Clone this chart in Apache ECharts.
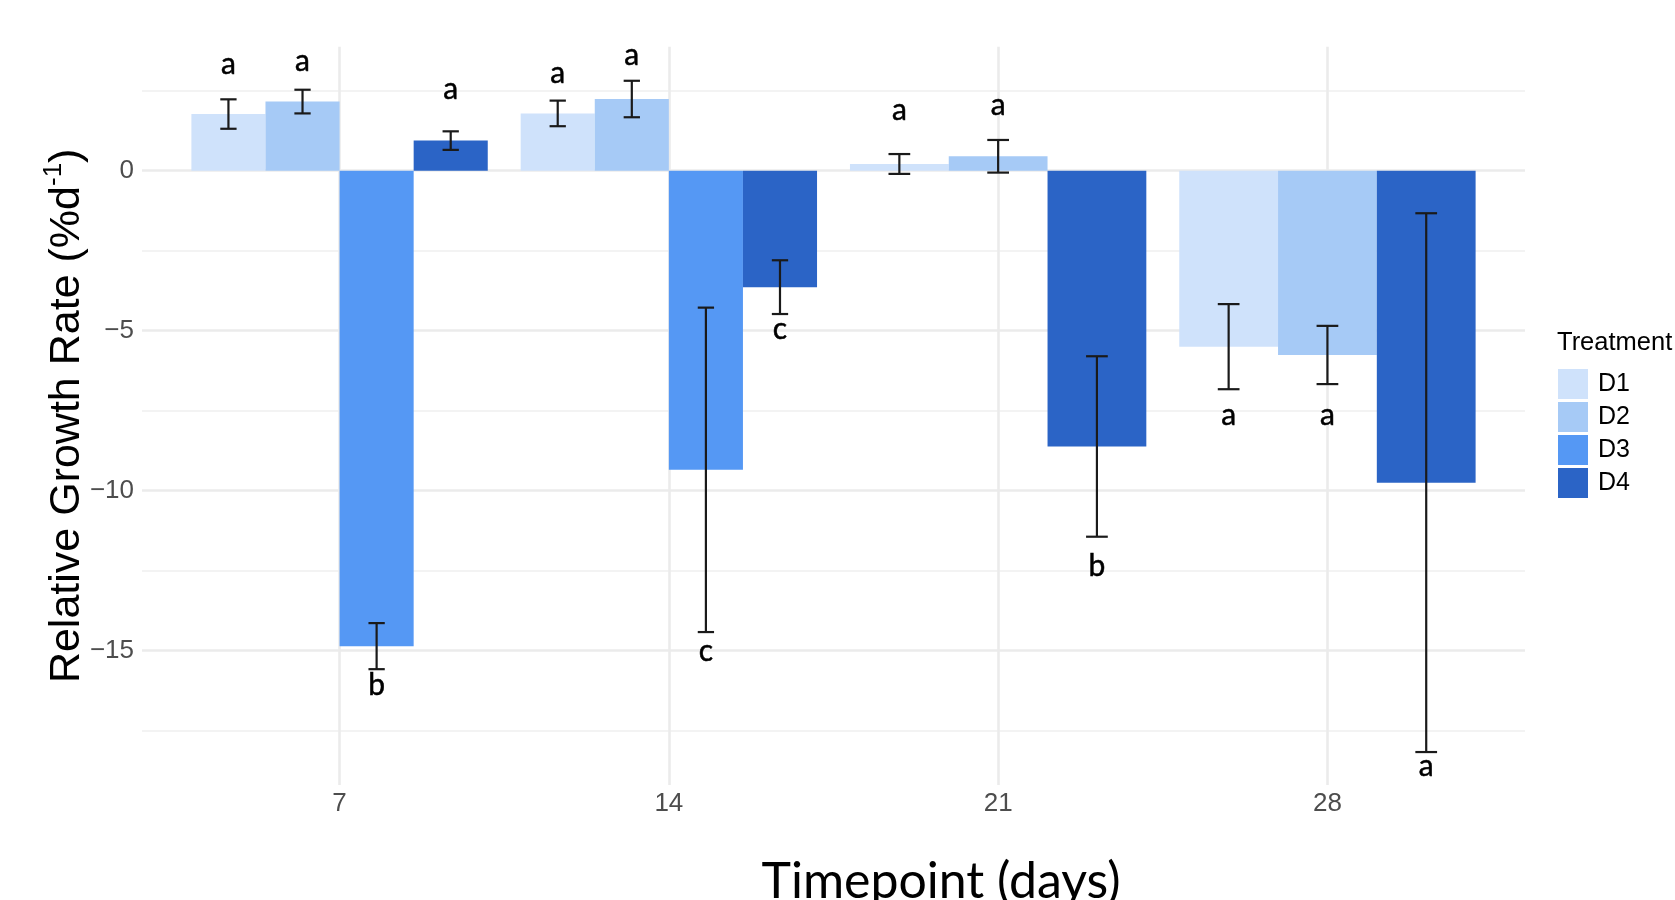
<!DOCTYPE html>
<html><head><meta charset="utf-8">
<script src="https://cdn.jsdelivr.net/npm/echarts@6/dist/echarts.min.js"></script>
<style>html,body{margin:0;padding:0;background:#fff}#c{width:1675px;height:900px}</style>
</head><body><div id="c"></div>
<script>
// ---- data ----
const timepoints = [7, 14, 21, 28];
const treatments = ['D1', 'D2', 'D3', 'D4'];
const meanD1 = [1.77, 1.79, 0.21, -5.50];
const meanD2 = [2.16, 2.24, 0.45, -5.76];
const meanD3 = [-14.86, -9.35, null, null];
const meanD4 = [0.94, -3.64, -8.62, -9.75];
const seD1 = [0.46, 0.40, 0.31, 1.33];
const seD2 = [0.37, 0.57, 0.51, 0.91];
const seD3 = [0.72, 5.07, null, null];
const seD4 = [0.29, 0.84, 2.82, 8.42];
const letterD1 = ['a', 'a', 'a', 'a'];
const letterD2 = ['a', 'a', 'a', 'a'];
const letterD3 = ['b', 'c', null, null];
const letterD4 = ['a', 'c', 'b', 'a'];
const letterPosD1 = [3.33, 3.03, 1.90, -7.65];
const letterPosD2 = [3.43, 3.60, 2.03, -7.65];
const letterPosD3 = [-16.10, -15.03, null, null];
const letterPosD4 = [2.53, -4.95, -12.36, -18.63];

// ---- styles ----
const colors = ['#cfe2fb', '#a6caf6', '#5598f4', '#2b64c6'];
const means = [meanD1, meanD2, meanD3, meanD4];
const ses = [seD1, seD2, seD3, seD4];
const letters = [letterD1, letterD2, letterD3, letterD4];
const letterPos = [letterPosD1, letterPosD2, letterPosD3, letterPosD4];
const SANS = '"Liberation Sans", Arial, Helvetica, sans-serif';
const CAL = 'Lato, "Open Sans", sans-serif';
const BAND = 7, DODGE = 0.9;

const series = treatments.map((name, k) => {
  const data = [];
  const labs = [];
  timepoints.forEach((t, i) => {
    if (means[k][i] == null) return;
    const present = treatments.filter((_, j) => means[j][i] != null);
    data.push([t, means[k][i], ses[k][i], letterPos[k][i], present.indexOf(name), present.length]);
    labs.push(letters[k][i]);
  });
  return {
    name, type: 'custom', data,
    itemStyle: { color: colors[k] },
    encode: { x: 0, y: [1] },
    renderItem(params, api) {
      const x = api.value(0), v = api.value(1), se = api.value(2), ly = api.value(3);
      const slot = api.value(4), n = api.value(5);
      const gw = DODGE * BAND, bw = gw / n;
      const x0 = x - gw / 2 + slot * bw, xc = x0 + bw / 2;
      const pA = api.coord([x0, 0]), pB = api.coord([x0 + bw, v]);
      const top = api.coord([xc, v + se]), bot = api.coord([xc, v - se]);
      const cap = 0.22 * bw / 2;
      const cl = api.coord([xc - cap, v])[0], cr = api.coord([xc + cap, v])[0];
      const lab = api.coord([xc, ly]);
      const ls = { stroke: '#1a1a1a', lineWidth: 2.2 };
      return { type: 'group', children: [
        { type: 'rect', shape: { x: pA[0], y: Math.min(pA[1], pB[1]), width: pB[0] - pA[0], height: Math.abs(pB[1] - pA[1]) }, style: { fill: colors[k] } },
        { type: 'line', shape: { x1: top[0], y1: top[1], x2: bot[0], y2: bot[1] }, style: ls },
        { type: 'line', shape: { x1: cl, y1: top[1], x2: cr, y2: top[1] }, style: ls },
        { type: 'line', shape: { x1: cl, y1: bot[1], x2: cr, y2: bot[1] }, style: ls },
        { type: 'text', x: lab[0], y: lab[1], style: { text: labs[params.dataIndex], fill: '#000', fontSize: 30, fontFamily: CAL, align: 'center', verticalAlign: 'middle', stroke: '#000', lineWidth: 0.5 } }
      ]};
    }
  };
});

const chart = echarts.init(document.getElementById('c'), null, { renderer: 'canvas' });
chart.setOption({
  animation: false,
  backgroundColor: '#fff',
  title: { text: 'Treatment', left: 1557, top: 330, padding: 0,
    textStyle: { fontSize: 25.5, fontWeight: 'normal', color: '#000', fontFamily: SANS } },
  legend: { orient: 'vertical', left: 1558, top: 369, itemWidth: 30, itemHeight: 30, itemGap: 3,
    icon: 'rect', data: treatments, selectedMode: false, padding: 0,
    textStyle: { fontSize: 25, color: '#000', fontFamily: SANS, padding: [0, 0, 0, 5] } },
  grid: { left: 142, right: 150, top: 46.7, bottom: 115 },
  xAxis: {
    type: 'value', min: 2.8, max: 32.2,
    axisLine: { show: false },
    axisTick: { show: false, customValues: timepoints },
    axisLabel: { customValues: timepoints, fontSize: 26, color: '#4d4d4d', fontFamily: SANS, margin: 6 },
    splitLine: { show: true, lineStyle: { color: '#ebebeb', width: 2.6 } }
  },
  yAxis: {
    type: 'value', min: -19.2, max: 3.875, splitNumber: 5,
    axisLine: { show: false }, axisTick: { show: false },
    axisLabel: { showMinLabel: false, showMaxLabel: false, fontSize: 26, color: '#4d4d4d', fontFamily: SANS, margin: 8,
      formatter: v => (v < 0 ? '\u2212' : '') + Math.abs(v) },
    splitLine: { show: true, showMinLine: false, showMaxLine: false, lineStyle: { color: '#ebebeb', width: 2.6 } },
    minorTick: { show: false, splitNumber: 2 },
    minorSplitLine: { show: true, lineStyle: { color: '#f3f3f3', width: 1.8 } },
    name: '{m|Relative Growth Rate (%d}{s|-1}{m|)}',
    nameLocation: 'middle', nameGap: 53, nameMoveOverlap: false,
    nameTextStyle: { rich: {
      m: { fontSize: 43, fontFamily: SANS, color: '#000', verticalAlign: 'bottom', lineHeight: 48 },
      s: { fontSize: 26, fontFamily: SANS, color: '#000', verticalAlign: 'top', lineHeight: 26 }
    } }
  },
  graphic: [{ type: 'text', x: 941, y: 882, style: { text: 'Timepoint (days)', fontSize: 50, fontFamily: CAL, fill: '#000', align: 'center', verticalAlign: 'middle' } }],
  series
});
</script></body></html>
